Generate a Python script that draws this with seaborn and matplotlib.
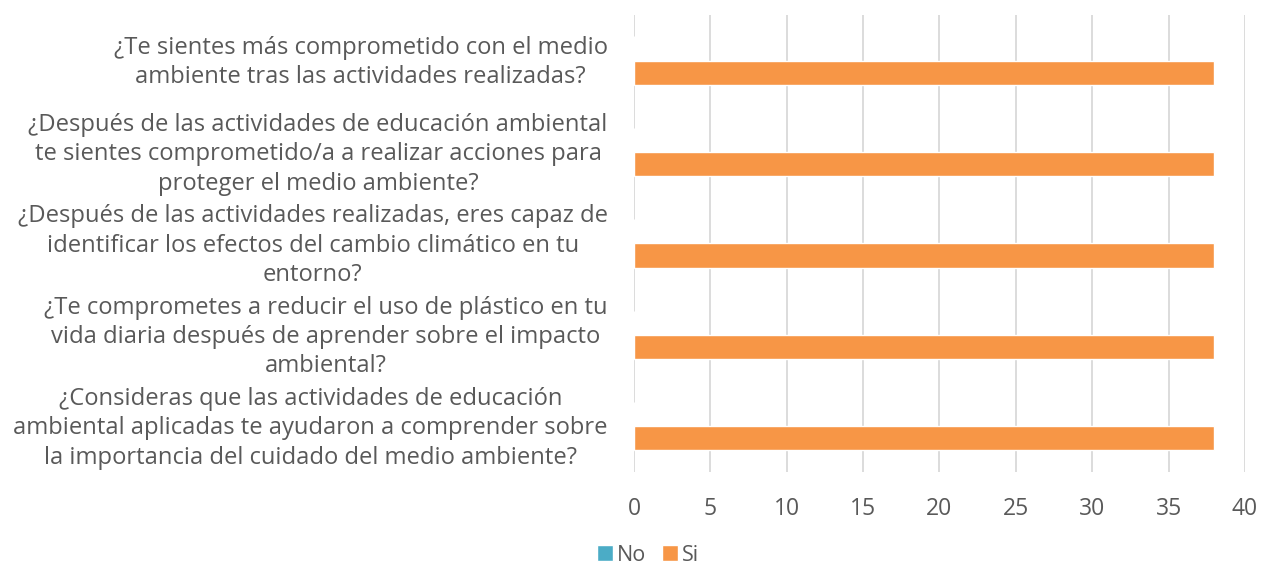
import matplotlib
matplotlib.use("Agg")
import matplotlib.pyplot as plt
import matplotlib.transforms as mtransforms
import seaborn as sns
import pandas as pd

categories = [
    "¿Te sientes más comprometido con el medio\nambiente tras las actividades realizadas?",
    "¿Después de las actividades de educación ambiental\nte sientes comprometido/a a realizar acciones para\nproteger el medio ambiente?",
    "¿Después de las actividades realizadas, eres capaz de\nidentificar los efectos del cambio climático en tu\nentorno?",
    "¿Te comprometes a reducir el uso de plástico en tu\nvida diaria después de aprender sobre el impacto\nambiental?",
    "¿Consideras que las actividades de educación\nambiental aplicadas te ayudaron a comprender sobre\nla importancia del cuidado del medio ambiente?",
]
series_names = ["No", "Si"]
no_values = [0, 0, 0, 0, 0]
si_values = [38, 38, 38, 38, 38]
x_ticks = [0, 5, 10, 15, 20, 25, 30, 35, 40]

rows = []
for c, n, s in zip(categories, no_values, si_values):
    rows.append({"Pregunta": c, "Respuesta": "No", "Valor": n})
    rows.append({"Pregunta": c, "Respuesta": "Si", "Valor": s})
df = pd.DataFrame(rows)

sns.set_theme(style="white")
plt.rcParams["font.family"] = ["Open Sans", "DejaVu Sans"]

text_color = "#595959"
fig = plt.figure(figsize=(12.63, 5.69), dpi=100)
ax = fig.add_axes([0.502, 0.1705, 0.4837, 0.8035])

sns.barplot(data=df, y="Pregunta", x="Valor", hue="Respuesta", orient="h",
            order=categories, hue_order=series_names,
            palette={"No": "#4BACC6", "Si": "#F79646"}, saturation=1,
            width=0.53, ax=ax, legend=True)

ax.set_xlim(0, 40)
ax.set_xticks(x_ticks)
ax.set_xticklabels([str(t) for t in x_ticks])
ax.set_xlabel("")
ax.set_ylabel("")
ax.set_ylim(4.5, -0.5)
for sp in ax.spines.values():
    sp.set_visible(False)
ax.grid(axis="x", color="#d9d9d9", linewidth=1.3)
ax.grid(axis="y", visible=False)
ax.set_axisbelow(True)
ax.tick_params(axis="x", length=0, pad=18, labelsize=16.5, labelcolor=text_color)
ax.tick_params(axis="y", length=0, pad=19, labelsize=17.1, labelcolor=text_color)
offset = mtransforms.ScaledTranslation(0, 2.5 / 72, fig.dpi_scale_trans)
for lbl in ax.get_yticklabels():
    lbl.set_multialignment("center")
    lbl.set_linespacing(1.3)
    lbl.set_transform(lbl.get_transform() + offset)

handles, labels = ax.get_legend_handles_labels()
ax.legend_.remove()
fig.legend(handles, labels, loc="center", bbox_to_anchor=(0.513, 0.024),
           ncol=2, frameon=False, fontsize=15.5, labelcolor=text_color,
           handlelength=0.75, handleheight=0.75, handletextpad=0.2,
           columnspacing=0.7, borderpad=0.1)

fig.savefig("out.png", dpi=100)
